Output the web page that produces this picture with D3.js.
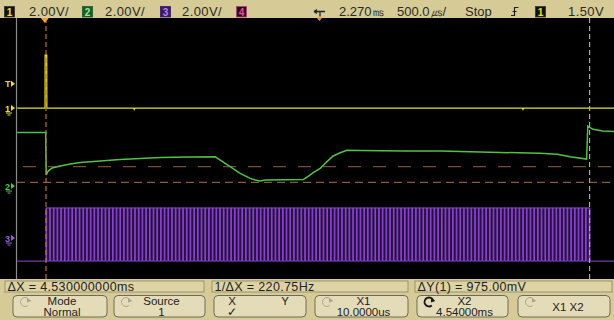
<!DOCTYPE html>
<html><head><meta charset="utf-8">
<script src="https://cdn.jsdelivr.net/npm/d3@7"></script>
<style>
html,body{margin:0;padding:0;background:#000;}
svg{display:block;font-family:"Liberation Sans",Arial,sans-serif;}
</style></head><body>
<svg id="scope" width="614" height="320"></svg>
<script>
// ---- acquisition settings ----
const voltsPerDiv = [2.0, 2.0, 2.0];
const timePerDiv = 0.5;            // ms / div
const triggerDelay = 2.270;        // ms at screen centre
const triggerLevel = 1.50;         // V on channel 1
const channelCenter = [-2.46, 2.34, 5.54]; // volts at the screen's vertical centre

// ---- channel 1 (yellow) ----
const ch1Time = [-0.23, 0.002, 0.003, 0.016, 0.017, 0.740, 0.745, 0.750, 3.980, 3.985, 3.990, 4.77];
const ch1Volt = [0, 0, 3.26, 3.26, 0, 0, -0.08, 0, 0, -0.08, 0, 0];

// ---- channel 2 (green) ----
const ch2Time = [-0.23, 0.007, 0.012, 0.028, 0.062, 0.128, 0.212, 0.295, 0.462, 0.628, 0.795, 0.962,
  1.212, 1.420, 1.462, 1.503, 1.545, 1.587, 1.628, 1.670, 1.712, 1.753, 1.795, 1.837, 2.000, 2.153,
  2.184, 2.237, 2.295, 2.351, 2.403, 2.462, 2.517, 2.628, 3.000, 3.295, 3.628, 4.128, 4.270, 4.378,
  4.515, 4.525, 4.567, 4.650, 4.770];
const ch2Volt = [3.30, 3.30, 0.68, 0.92, 1.11, 1.23, 1.35, 1.45, 1.54, 1.63, 1.69, 1.75,
  1.78, 1.80, 1.60, 1.40, 1.19, 0.98, 0.78, 0.62, 0.47, 0.37, 0.31, 0.37, 0.38, 0.40,
  0.54, 0.82, 1.09, 1.50, 1.85, 2.05, 2.20, 2.18, 2.16, 2.15, 2.10, 2.01, 1.95, 1.80,
  1.66, 3.69, 3.49, 3.38, 3.34];

// ---- channel 3 (purple) pulse burst ----
const ch3BurstStart = 0.010;   // ms
const ch3BurstEnd = 4.540;     // ms
const ch3Period = 0.0308;      // ms
const ch3PulseWidth = 0.005;   // ms
const ch3High = 1.85;          // V
const ch3Low = -1.42;          // V

// ---- cursors ----
const cursorX = [0.010, 4.540];      // ms
const cursorY = [-3.600, -4.575];    // V, source channel 1

// ---- text ----
const chanScaleLabels = ["2.00V/", "2.00V/", "2.00V/"];
const delayLabel = "2.270㎳";
const timebaseLabel = "500.0㎲/";
const runLabel = "Stop";
const trigLevelLabel = "1.50V";
const statusLabels = ["ΔX = 4.530000000ms", "1/ΔX = 220.75Hz", "ΔY(1) = 975.00mV"];
const softkeys = [
  {top: "Mode", bottom: "Normal", icon: "dim"},
  {top: "Source", bottom: "1", icon: "dim"},
  {top: "X", bottom: "✓", icon: "none", xy: true},
  {top: "X1", bottom: "10.0000us", icon: "dim"},
  {top: "X2", bottom: "4.54000ms", icon: "bold"},
  {top: "X1 X2", bottom: "", icon: "dim"}
];

const W = 614, H = 320;
const scr = {left: 17.2, right: 617.2, top: 18, bottom: 278};
const tan = "#d6cb96";

const svg = d3.select("#scope");

const x = d3.scaleLinear()
  .domain([triggerDelay - 5 * timePerDiv, triggerDelay + 5 * timePerDiv])
  .range([scr.left, scr.right]);
const yScale = ch => d3.scaleLinear()
  .domain([channelCenter[ch] - 4 * voltsPerDiv[ch], channelCenter[ch] + 4 * voltsPerDiv[ch]])
  .range([scr.bottom, scr.top]);
const y1 = yScale(0), y2 = yScale(1), y3 = yScale(2);

// ---- background ----
svg.append("rect").attr("width", W).attr("height", H).attr("fill", tan);
svg.append("rect").attr("x", 0).attr("y", 18).attr("width", W).attr("height", 261).attr("fill", "#000");

// left border of waveform area
svg.append("line").attr("x1", 16.5).attr("x2", 16.5).attr("y1", 18).attr("y2", 279)
  .attr("stroke", "#8a8a8a").attr("stroke-width", 1.2);

const plot = svg.append("g");
plot.append("clipPath").attr("id", "clip").append("rect")
  .attr("x", 17).attr("y", 18).attr("width", 600).attr("height", 261);
const traces = plot.append("g").attr("clip-path", "url(#clip)");

// ---- cursors ----
traces.selectAll("line.cy").data(cursorY).join("line")
  .attr("x1", 17).attr("x2", W)
  .attr("y1", d => y1(d)).attr("y2", d => y1(d))
  .attr("stroke", (d, i) => i === 0 ? "#7a4a32" : "#8a5a3c")
  .attr("stroke-width", 1.3)
  .attr("stroke-dasharray", (d, i) => i === 0 ? "13,12" : "8,5")
  .attr("stroke-dashoffset", (d, i) => i === 0 ? -6 : 0);

// ---- channel 3 burst ----
const ch3Pts = [[x.domain()[0], ch3Low], [ch3BurstStart, ch3Low]];
for (let t = ch3BurstStart; t < ch3BurstEnd; t += ch3Period) {
  ch3Pts.push([t, ch3Low], [t, ch3High], [t + ch3PulseWidth, ch3High], [t + ch3PulseWidth, ch3Low]);
}
ch3Pts.push([ch3BurstEnd, ch3Low], [x.domain()[1], ch3Low]);
traces.append("rect")
  .attr("x", x(ch3BurstStart)).attr("y", y3(ch3High))
  .attr("width", x(ch3BurstEnd) - x(ch3BurstStart)).attr("height", y3(ch3Low) - y3(ch3High))
  .attr("fill", "#2a1042");
traces.append("path")
  .attr("d", d3.line().x(d => x(d[0])).y(d => y3(d[1]))(ch3Pts))
  .attr("fill", "none").attr("stroke", "#8a46d2").attr("stroke-width", 1);
traces.append("line")
  .attr("x1", x(ch3BurstStart)).attr("x2", x(ch3BurstEnd))
  .attr("y1", y3(ch3High)).attr("y2", y3(ch3High))
  .attr("stroke", "#8a46d2").attr("stroke-width", 1);

// ---- channel 2 ----
traces.append("path")
  .attr("d", d3.line().x((d, i) => x(ch2Time[i])).y((d, i) => y2(ch2Volt[i]))(ch2Time))
  .attr("fill", "none").attr("stroke", "#4fc24a").attr("stroke-width", 1.5);

// ---- channel 1 ----
traces.append("path")
  .attr("d", d3.line().x((d, i) => x(ch1Time[i])).y((d, i) => y1(ch1Volt[i]))(ch1Time))
  .attr("fill", "none").attr("stroke", "#e4e034").attr("stroke-width", 1.3);

// vertical time cursors
traces.selectAll("line.cx").data(cursorX).join("line")
  .attr("x1", d => x(d)).attr("x2", d => x(d))
  .attr("y1", 18).attr("y2", 279)
  .attr("stroke", (d, i) => i === 0 ? "#c8783c" : "#d2a690")
  .attr("stroke-width", 1.1)
  .attr("stroke-dasharray", "5,3");

// trigger point marker
svg.append("path")
  .attr("d", `M${x(0) - 4},18 L${x(0) + 4},18 L${x(0)},23 Z`)
  .attr("fill", "#f0a030");

// ---- channel markers at left ----
function marker(label, yPos, color, ground) {
  const g = svg.append("g").attr("fill", color);
  g.append("text").attr("x", 5).attr("y", yPos + 3.5)
    .attr("font-size", 9).attr("font-weight", "bold").text(label);
  g.append("path").attr("d", `M11,${yPos - 3} L15,${yPos} L11,${yPos + 3} Z`);
  if (ground) {
    g.append("path").attr("d", `M6,${yPos + 5} H12 M7.5,${yPos + 7} H10.5`)
      .attr("stroke", color).attr("stroke-width", 1).attr("fill", "none");
  }
}
marker("T", y1(triggerLevel), "#e4e034", false);
marker("1", y1(0), "#e4e034", true);
marker("2", y2(0), "#4fc24a", true);
marker("3", y3(0), "#9a5ad8", true);

// ---- top status bar ----
const topBar = svg.append("g").attr("font-size", 13).attr("fill", "#2a2a22");
function chanBox(xp, label, bg, fg, border) {
  topBar.append("rect").attr("x", xp).attr("y", 6.5).attr("width", 10).attr("height", 10.5)
    .attr("fill", bg).attr("stroke", border).attr("stroke-width", 0.8);
  topBar.append("text").attr("x", xp + 5).attr("y", 15.5).attr("text-anchor", "middle")
    .attr("font-size", 10).attr("font-weight", "bold").attr("fill", fg).text(label);
}
chanBox(4.5, "1", "#111", "#e8e040", "#333");
chanBox(82.5, "2", "#1e5a2a", "#9ee89a", "#1e5a2a");
chanBox(160.5, "3", "#3e1a66", "#b48ae8", "#3e1a66");
chanBox(236.5, "4", "#221018", "#f04aa0", "#c03a80");
[29, 105, 182].forEach((xp, i) =>
  topBar.append("text").attr("x", xp).attr("y", 16).attr("letter-spacing", 0.4).text(chanScaleLabels[i]));

// delay icon
topBar.append("path").attr("d", "M314,11.5 H325 M320,11.5 V16.5 M314,11.5 L317,9.5 M314,11.5 L317,13.5")
  .attr("stroke", "#222").attr("stroke-width", 1.3).attr("fill", "none");
topBar.append("path").attr("d", "M316.5,17.5 H322.5 L319.5,21 Z").attr("fill", "#e89030");
topBar.append("text").attr("x", 339).attr("y", 16).text(delayLabel);
topBar.append("text").attr("x", 397).attr("y", 16).text(timebaseLabel);
topBar.append("text").attr("x", 465).attr("y", 16).text(runLabel);
// rising edge trigger symbol
topBar.append("path").attr("d", "M511,15.5 H514.5 V7.5 H518.5 M512.5,11.5 H516.5")
  .attr("stroke", "#222").attr("stroke-width", 1.2).attr("fill", "none");
chanBox(535.5, "1", "#111", "#e8e040", "#333");
topBar.append("text").attr("x", 568).attr("y", 16).attr("letter-spacing", 0.4).text(trigLevelLabel);

// ---- measurement line ----
const status = svg.append("g").attr("font-size", 12.5).attr("fill", "#222");
const statusBoxes = [[5, 204], [212, 408], [415, 612]];
statusBoxes.forEach(([a, b], i) => {
  status.append("rect").attr("x", a).attr("y", 281).attr("width", b - a).attr("height", 11)
    .attr("fill", "#ddd3a4").attr("stroke", "#8c8468").attr("stroke-width", 0.8);
  status.append("text").attr("x", a + 2.5).attr("y", 290.5).attr("letter-spacing", 0.35)
    .text(statusLabels[i]);
});

// ---- softkeys ----
const keyX = [[13, 107], [114, 205], [214, 306], [315, 408], [417, 508], [518, 610]];
function rotIcon(g, cx, cy, bold) {
  const r = 4.5;
  g.append("path")
    .attr("d", `M${cx + r * Math.cos(-0.3)},${cy + r * Math.sin(-0.3)} A${r},${r} 0 1 0 ${cx + r * Math.cos(0.9)},${cy + r * Math.sin(0.9)}`)
    .attr("fill", "none").attr("stroke", bold ? "#1a1a1a" : "#aaa48e").attr("stroke-width", bold ? 1.8 : 1);
  g.append("path")
    .attr("d", `M${cx + 2},${cy - 4} L${cx + 6.5},${cy - 1} L${cx + 2},${cy + 0.5} Z`)
    .attr("fill", bold ? "#1a1a1a" : "#aaa48e");
}
const keys = svg.append("g").attr("font-size", 11.5).attr("fill", "#222");
softkeys.forEach((k, i) => {
  const [a, b] = keyX[i];
  const g = keys.append("g");
  g.append("rect").attr("x", a).attr("y", 295.5).attr("width", b - a).attr("height", 21.5)
    .attr("rx", 4).attr("fill", "#e4dcb8").attr("stroke", "#6e6a58").attr("stroke-width", 1);
  const cx = (a + b) / 2;
  if (k.icon !== "none") rotIcon(g, a + 12, 302, k.icon === "bold");
  if (k.xy) {
    const t = g.append("text").attr("text-anchor", "middle");
    t.append("tspan").attr("x", 232).attr("y", 305).text("X");
    t.append("tspan").attr("x", 232).attr("y", 316).text(k.bottom);
    g.append("text").attr("x", 285).attr("y", 305).attr("text-anchor", "middle").text("Y");
  } else if (k.bottom === "") {
    g.append("text").attr("x", cx + 4).attr("y", 310.5).attr("text-anchor", "middle").text(k.top);
  } else {
    const t = g.append("text").attr("text-anchor", "middle");
    t.append("tspan").attr("x", cx + 2).attr("y", 305).text(k.top);
    t.append("tspan").attr("x", cx + 2).attr("y", 315.5).text(k.bottom);
  }
});
</script>
</body></html>
